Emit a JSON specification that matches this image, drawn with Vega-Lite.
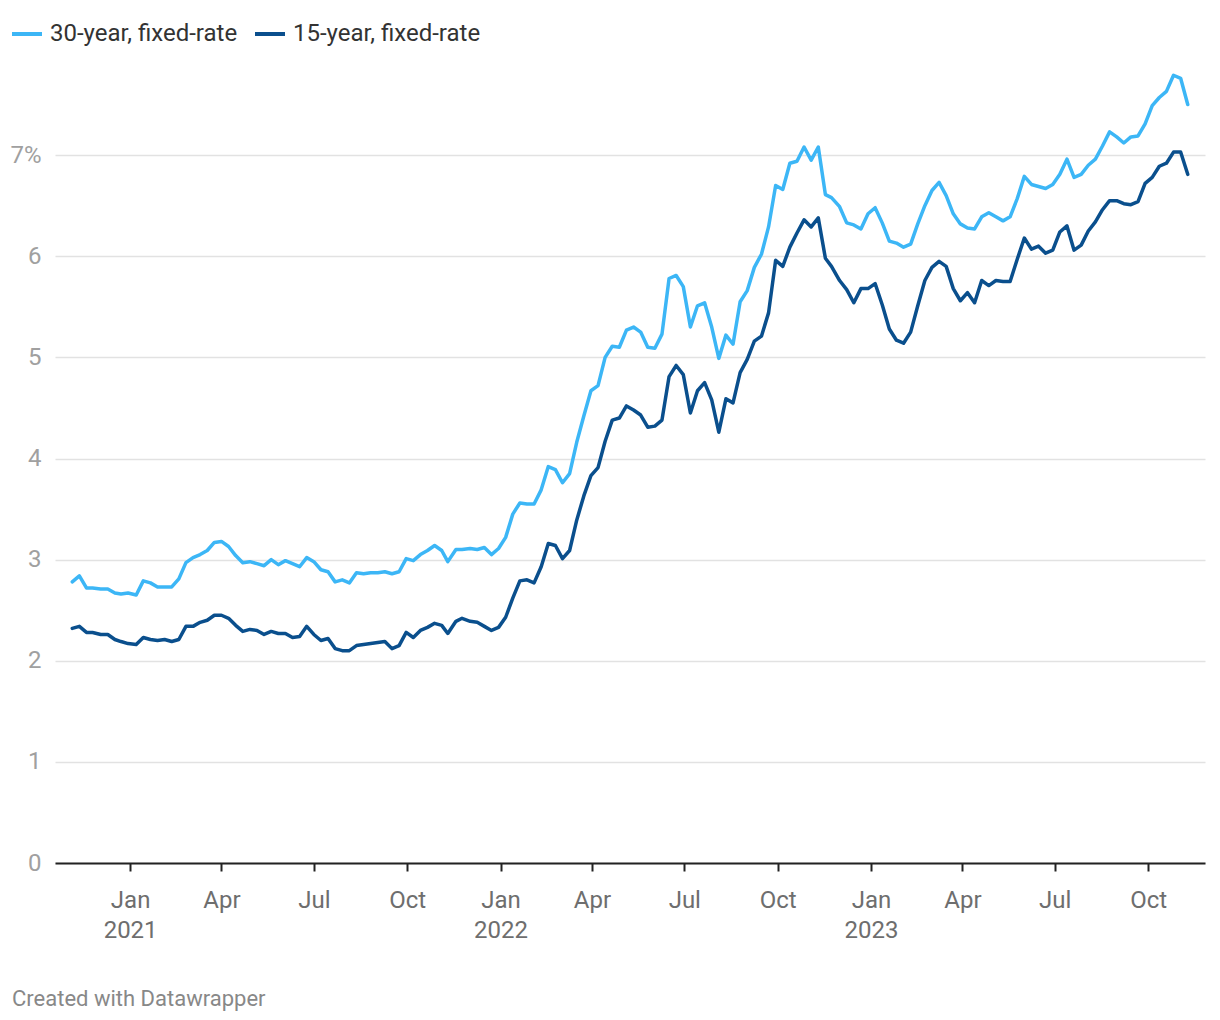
{
  "$schema": "https://vega.github.io/schema/vega-lite/v6.json",
  "autosize": {"type": "none"},
  "padding": {"left": 55, "top": 54, "right": 15, "bottom": 157},
  "width": 1150,
  "height": 809,
  "background": "white",
  "config": {
    "view": {"stroke": null},
    "font": "Roboto"
  },
  "title": {
    "text": "Created with Datawrapper",
    "orient": "bottom",
    "anchor": "start",
    "frame": "group",
    "fontSize": 22,
    "fontWeight": "normal",
    "color": "#888888",
    "font": "Roboto",
    "dx": -43,
    "offset": 46
  },
  "data": {
    "values": [
      {"d": "2020-11-05", "y30": 2.78, "y15": 2.32},
      {"d": "2020-11-12", "y30": 2.84, "y15": 2.34},
      {"d": "2020-11-19", "y30": 2.72, "y15": 2.28},
      {"d": "2020-11-25", "y30": 2.72, "y15": 2.28},
      {"d": "2020-12-03", "y30": 2.71, "y15": 2.26},
      {"d": "2020-12-10", "y30": 2.71, "y15": 2.26},
      {"d": "2020-12-17", "y30": 2.67, "y15": 2.21},
      {"d": "2020-12-23", "y30": 2.66, "y15": 2.19},
      {"d": "2020-12-30", "y30": 2.67, "y15": 2.17},
      {"d": "2021-01-07", "y30": 2.65, "y15": 2.16},
      {"d": "2021-01-14", "y30": 2.79, "y15": 2.23},
      {"d": "2021-01-21", "y30": 2.77, "y15": 2.21},
      {"d": "2021-01-28", "y30": 2.73, "y15": 2.20},
      {"d": "2021-02-04", "y30": 2.73, "y15": 2.21},
      {"d": "2021-02-11", "y30": 2.73, "y15": 2.19},
      {"d": "2021-02-18", "y30": 2.81, "y15": 2.21},
      {"d": "2021-02-25", "y30": 2.97, "y15": 2.34},
      {"d": "2021-03-04", "y30": 3.02, "y15": 2.34},
      {"d": "2021-03-11", "y30": 3.05, "y15": 2.38},
      {"d": "2021-03-18", "y30": 3.09, "y15": 2.40},
      {"d": "2021-03-25", "y30": 3.17, "y15": 2.45},
      {"d": "2021-04-01", "y30": 3.18, "y15": 2.45},
      {"d": "2021-04-08", "y30": 3.13, "y15": 2.42},
      {"d": "2021-04-15", "y30": 3.04, "y15": 2.35},
      {"d": "2021-04-22", "y30": 2.97, "y15": 2.29},
      {"d": "2021-04-29", "y30": 2.98, "y15": 2.31},
      {"d": "2021-05-06", "y30": 2.96, "y15": 2.30},
      {"d": "2021-05-13", "y30": 2.94, "y15": 2.26},
      {"d": "2021-05-20", "y30": 3.00, "y15": 2.29},
      {"d": "2021-05-27", "y30": 2.95, "y15": 2.27},
      {"d": "2021-06-03", "y30": 2.99, "y15": 2.27},
      {"d": "2021-06-10", "y30": 2.96, "y15": 2.23},
      {"d": "2021-06-17", "y30": 2.93, "y15": 2.24},
      {"d": "2021-06-24", "y30": 3.02, "y15": 2.34},
      {"d": "2021-07-01", "y30": 2.98, "y15": 2.26},
      {"d": "2021-07-08", "y30": 2.90, "y15": 2.20},
      {"d": "2021-07-15", "y30": 2.88, "y15": 2.22},
      {"d": "2021-07-22", "y30": 2.78, "y15": 2.12},
      {"d": "2021-07-29", "y30": 2.80, "y15": 2.10},
      {"d": "2021-08-05", "y30": 2.77, "y15": 2.10},
      {"d": "2021-08-12", "y30": 2.87, "y15": 2.15},
      {"d": "2021-08-19", "y30": 2.86, "y15": 2.16},
      {"d": "2021-08-26", "y30": 2.87, "y15": 2.17},
      {"d": "2021-09-02", "y30": 2.87, "y15": 2.18},
      {"d": "2021-09-09", "y30": 2.88, "y15": 2.19},
      {"d": "2021-09-16", "y30": 2.86, "y15": 2.12},
      {"d": "2021-09-23", "y30": 2.88, "y15": 2.15},
      {"d": "2021-09-30", "y30": 3.01, "y15": 2.28},
      {"d": "2021-10-07", "y30": 2.99, "y15": 2.23},
      {"d": "2021-10-14", "y30": 3.05, "y15": 2.30},
      {"d": "2021-10-21", "y30": 3.09, "y15": 2.33},
      {"d": "2021-10-28", "y30": 3.14, "y15": 2.37},
      {"d": "2021-11-04", "y30": 3.09, "y15": 2.35},
      {"d": "2021-11-10", "y30": 2.98, "y15": 2.27},
      {"d": "2021-11-18", "y30": 3.10, "y15": 2.39},
      {"d": "2021-11-24", "y30": 3.10, "y15": 2.42},
      {"d": "2021-12-02", "y30": 3.11, "y15": 2.39},
      {"d": "2021-12-09", "y30": 3.10, "y15": 2.38},
      {"d": "2021-12-16", "y30": 3.12, "y15": 2.34},
      {"d": "2021-12-23", "y30": 3.05, "y15": 2.30},
      {"d": "2021-12-30", "y30": 3.11, "y15": 2.33},
      {"d": "2022-01-06", "y30": 3.22, "y15": 2.43},
      {"d": "2022-01-13", "y30": 3.45, "y15": 2.62},
      {"d": "2022-01-20", "y30": 3.56, "y15": 2.79},
      {"d": "2022-01-27", "y30": 3.55, "y15": 2.80},
      {"d": "2022-02-03", "y30": 3.55, "y15": 2.77},
      {"d": "2022-02-10", "y30": 3.69, "y15": 2.93},
      {"d": "2022-02-17", "y30": 3.92, "y15": 3.16},
      {"d": "2022-02-24", "y30": 3.89, "y15": 3.14},
      {"d": "2022-03-03", "y30": 3.76, "y15": 3.01},
      {"d": "2022-03-10", "y30": 3.85, "y15": 3.09},
      {"d": "2022-03-17", "y30": 4.16, "y15": 3.39},
      {"d": "2022-03-24", "y30": 4.42, "y15": 3.63},
      {"d": "2022-03-31", "y30": 4.67, "y15": 3.83},
      {"d": "2022-04-07", "y30": 4.72, "y15": 3.91},
      {"d": "2022-04-14", "y30": 5.00, "y15": 4.17},
      {"d": "2022-04-21", "y30": 5.11, "y15": 4.38},
      {"d": "2022-04-28", "y30": 5.10, "y15": 4.40},
      {"d": "2022-05-05", "y30": 5.27, "y15": 4.52},
      {"d": "2022-05-12", "y30": 5.30, "y15": 4.48},
      {"d": "2022-05-19", "y30": 5.25, "y15": 4.43},
      {"d": "2022-05-26", "y30": 5.10, "y15": 4.31},
      {"d": "2022-06-02", "y30": 5.09, "y15": 4.32},
      {"d": "2022-06-09", "y30": 5.23, "y15": 4.38},
      {"d": "2022-06-16", "y30": 5.78, "y15": 4.81},
      {"d": "2022-06-23", "y30": 5.81, "y15": 4.92},
      {"d": "2022-06-30", "y30": 5.70, "y15": 4.83},
      {"d": "2022-07-07", "y30": 5.30, "y15": 4.45},
      {"d": "2022-07-14", "y30": 5.51, "y15": 4.67},
      {"d": "2022-07-21", "y30": 5.54, "y15": 4.75},
      {"d": "2022-07-28", "y30": 5.30, "y15": 4.58},
      {"d": "2022-08-04", "y30": 4.99, "y15": 4.26},
      {"d": "2022-08-11", "y30": 5.22, "y15": 4.59},
      {"d": "2022-08-18", "y30": 5.13, "y15": 4.55},
      {"d": "2022-08-25", "y30": 5.55, "y15": 4.85},
      {"d": "2022-09-01", "y30": 5.66, "y15": 4.98},
      {"d": "2022-09-08", "y30": 5.89, "y15": 5.16},
      {"d": "2022-09-15", "y30": 6.02, "y15": 5.21},
      {"d": "2022-09-22", "y30": 6.29, "y15": 5.44},
      {"d": "2022-09-29", "y30": 6.70, "y15": 5.96},
      {"d": "2022-10-06", "y30": 6.66, "y15": 5.90},
      {"d": "2022-10-13", "y30": 6.92, "y15": 6.09},
      {"d": "2022-10-20", "y30": 6.94, "y15": 6.23},
      {"d": "2022-10-27", "y30": 7.08, "y15": 6.36},
      {"d": "2022-11-03", "y30": 6.95, "y15": 6.29},
      {"d": "2022-11-10", "y30": 7.08, "y15": 6.38},
      {"d": "2022-11-17", "y30": 6.61, "y15": 5.98},
      {"d": "2022-11-23", "y30": 6.58, "y15": 5.90},
      {"d": "2022-12-01", "y30": 6.49, "y15": 5.76},
      {"d": "2022-12-08", "y30": 6.33, "y15": 5.67},
      {"d": "2022-12-15", "y30": 6.31, "y15": 5.54},
      {"d": "2022-12-22", "y30": 6.27, "y15": 5.68},
      {"d": "2022-12-29", "y30": 6.42, "y15": 5.68},
      {"d": "2023-01-05", "y30": 6.48, "y15": 5.73},
      {"d": "2023-01-12", "y30": 6.33, "y15": 5.52},
      {"d": "2023-01-19", "y30": 6.15, "y15": 5.28},
      {"d": "2023-01-26", "y30": 6.13, "y15": 5.17},
      {"d": "2023-02-02", "y30": 6.09, "y15": 5.14},
      {"d": "2023-02-09", "y30": 6.12, "y15": 5.25},
      {"d": "2023-02-16", "y30": 6.32, "y15": 5.51},
      {"d": "2023-02-23", "y30": 6.50, "y15": 5.76},
      {"d": "2023-03-02", "y30": 6.65, "y15": 5.89},
      {"d": "2023-03-09", "y30": 6.73, "y15": 5.95},
      {"d": "2023-03-16", "y30": 6.60, "y15": 5.90},
      {"d": "2023-03-23", "y30": 6.42, "y15": 5.68},
      {"d": "2023-03-30", "y30": 6.32, "y15": 5.56},
      {"d": "2023-04-06", "y30": 6.28, "y15": 5.64},
      {"d": "2023-04-13", "y30": 6.27, "y15": 5.54},
      {"d": "2023-04-20", "y30": 6.39, "y15": 5.76},
      {"d": "2023-04-27", "y30": 6.43, "y15": 5.71},
      {"d": "2023-05-04", "y30": 6.39, "y15": 5.76},
      {"d": "2023-05-11", "y30": 6.35, "y15": 5.75},
      {"d": "2023-05-18", "y30": 6.39, "y15": 5.75},
      {"d": "2023-05-25", "y30": 6.57, "y15": 5.97},
      {"d": "2023-06-01", "y30": 6.79, "y15": 6.18},
      {"d": "2023-06-08", "y30": 6.71, "y15": 6.07},
      {"d": "2023-06-15", "y30": 6.69, "y15": 6.10},
      {"d": "2023-06-22", "y30": 6.67, "y15": 6.03},
      {"d": "2023-06-29", "y30": 6.71, "y15": 6.06},
      {"d": "2023-07-06", "y30": 6.81, "y15": 6.24},
      {"d": "2023-07-13", "y30": 6.96, "y15": 6.30},
      {"d": "2023-07-20", "y30": 6.78, "y15": 6.06},
      {"d": "2023-07-27", "y30": 6.81, "y15": 6.11},
      {"d": "2023-08-03", "y30": 6.90, "y15": 6.25},
      {"d": "2023-08-10", "y30": 6.96, "y15": 6.34},
      {"d": "2023-08-17", "y30": 7.09, "y15": 6.46},
      {"d": "2023-08-24", "y30": 7.23, "y15": 6.55},
      {"d": "2023-08-31", "y30": 7.18, "y15": 6.55},
      {"d": "2023-09-07", "y30": 7.12, "y15": 6.52},
      {"d": "2023-09-14", "y30": 7.18, "y15": 6.51},
      {"d": "2023-09-21", "y30": 7.19, "y15": 6.54},
      {"d": "2023-09-28", "y30": 7.31, "y15": 6.72},
      {"d": "2023-10-05", "y30": 7.49, "y15": 6.78},
      {"d": "2023-10-12", "y30": 7.57, "y15": 6.89},
      {"d": "2023-10-19", "y30": 7.63, "y15": 6.92},
      {"d": "2023-10-26", "y30": 7.79, "y15": 7.03},
      {"d": "2023-11-02", "y30": 7.76, "y15": 7.03},
      {"d": "2023-11-09", "y30": 7.50, "y15": 6.81}
    ]
  },
  "transform": [
    {"fold": ["y30", "y15"], "as": ["series", "rate"]}
  ],
  "mark": {"type": "line", "strokeWidth": 3.5, "strokeJoin": "round", "strokeCap": "round"},
  "encoding": {
    "x": {
      "field": "d",
      "type": "temporal",
      "scale": {
        "type": "utc",
        "domain": [
          {"year": 2020, "month": 10, "date": 19, "utc": true},
          {"year": 2023, "month": 11, "date": 26, "utc": true}
        ]
      },
      "axis": {
        "title": null,
        "values": [
          {"year": 2021, "month": 1, "date": 1, "utc": true},
          {"year": 2021, "month": 4, "date": 1, "utc": true},
          {"year": 2021, "month": 7, "date": 1, "utc": true},
          {"year": 2021, "month": 10, "date": 1, "utc": true},
          {"year": 2022, "month": 1, "date": 1, "utc": true},
          {"year": 2022, "month": 4, "date": 1, "utc": true},
          {"year": 2022, "month": 7, "date": 1, "utc": true},
          {"year": 2022, "month": 10, "date": 1, "utc": true},
          {"year": 2023, "month": 1, "date": 1, "utc": true},
          {"year": 2023, "month": 4, "date": 1, "utc": true},
          {"year": 2023, "month": 7, "date": 1, "utc": true},
          {"year": 2023, "month": 10, "date": 1, "utc": true}
        ],
        "labelExpr": "utcFormat(datum.value, '%m') == '01' ? [utcFormat(datum.value, '%b'), utcFormat(datum.value, '%Y')] : utcFormat(datum.value, '%b')",
        "grid": false,
        "domainColor": "#222222",
        "domainWidth": 2,
        "tickColor": "#222222",
        "tickWidth": 2,
        "tickSize": 8,
        "labelFontSize": 24,
        "labelColor": "#6e6e6e",
        "labelFont": "Roboto",
        "labelPadding": 17,
        "labelLineHeight": 30.5,
        "labelFlush": false,
        "labelOverlap": false
      }
    },
    "y": {
      "field": "rate",
      "type": "quantitative",
      "scale": {"domain": [0, 8], "nice": false},
      "axis": {
        "title": null,
        "values": [0, 1, 2, 3, 4, 5, 6, 7],
        "labelExpr": "datum.value == 7 ? '7%' : datum.label",
        "grid": true,
        "gridColor": "#e2e2e2",
        "gridWidth": 1.5,
        "domain": false,
        "ticks": false,
        "labelFontSize": 24,
        "labelColor": "#a0a0a0",
        "labelFont": "Roboto",
        "labelPadding": 14
      }
    },
    "color": {
      "field": "series",
      "type": "nominal",
      "scale": {"domain": ["y30", "y15"], "range": ["#3cb6f6", "#0a4f8d"]},
      "legend": {
        "title": null,
        "orient": "none",
        "direction": "horizontal",
        "legendX": -45,
        "legendY": -37,
        "padding": 0,
        "symbolType": "stroke",
        "symbolSize": 900,
        "symbolStrokeWidth": 4,
        "labelFontSize": 24,
        "labelFont": "Roboto",
        "labelColor": "#333333",
        "labelOffset": 6,
        "columnPadding": 9,
        "labelLimit": 400,
        "labelExpr": "datum.label == 'y30' ? '30-year, fixed-rate' : '15-year, fixed-rate'"
      }
    }
  }
}
